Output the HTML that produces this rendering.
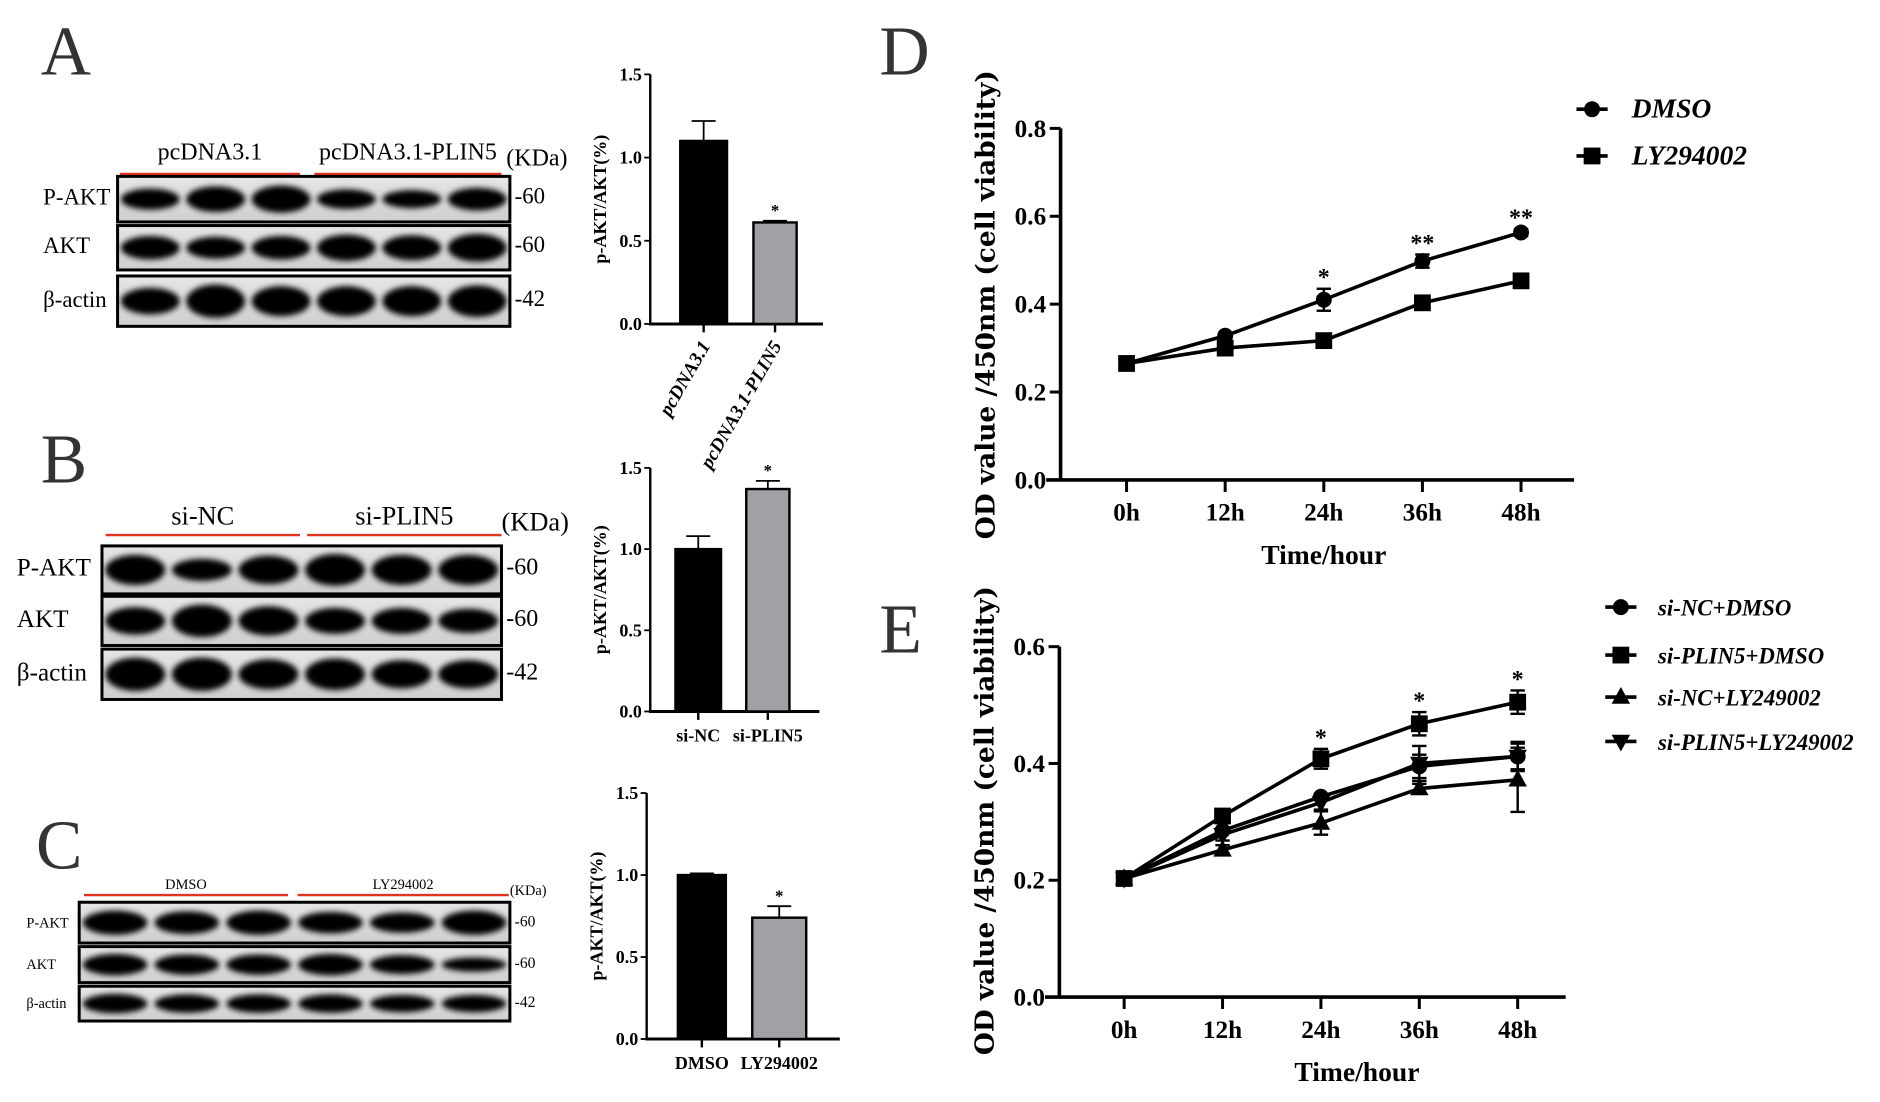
<!DOCTYPE html>
<html><head><meta charset="utf-8"><style>
html,body{margin:0;padding:0;background:#fff;}
svg{display:block;font-family:"Liberation Serif",serif;}
</style></head><body>
<svg id="fig" width="1880" height="1102" viewBox="0 0 1567 918.5" preserveAspectRatio="none" xmlns="http://www.w3.org/2000/svg">
<defs><filter id="blur" x="-20%" y="-50%" width="140%" height="200%"><feGaussianBlur stdDeviation="2.5"/></filter>
<linearGradient id="gel" x1="0" y1="0" x2="0" y2="1"><stop offset="0" stop-color="#e6e6e6"/><stop offset="1" stop-color="#cfcfcf"/></linearGradient></defs>
<g font-size="58" fill="#333">
<text x="34" y="62">A</text>
<text x="34" y="402">B</text>
<text x="30" y="724">C</text>
<text x="733" y="62">D</text>
<text x="733" y="544">E</text>
</g>
<g id="blots"></g>
<g id="bars"></g>
<g id="lines"></g>
</svg>
<script>
const NS="http://www.w3.org/2000/svg";
function mk(parent,tag,attrs,text){const e=document.createElementNS(NS,tag);for(const k in attrs)e.setAttribute(k,attrs[k]);if(text!==undefined)e.textContent=text;parent.appendChild(e);return e;}

// ---------- Western blots ----------
const blotGroups=[["pcDNA3.1","pcDNA3.1-PLIN5"],["si-NC","si-PLIN5"],["DMSO","LY294002"]];
const blotRows=["P-AKT","AKT","β-actin"];
const blotKDa=["60","60","42"];
const bandA=[[0.7,0.85,0.9,0.65,0.6,0.75],[0.8,0.75,0.8,0.9,0.85,0.95],[0.8,1,0.9,0.9,0.9,0.95]];
const bandB=[[0.95,0.7,0.9,1,0.95,0.95],[0.85,1,0.9,0.8,0.8,0.75],[1,1,0.9,0.95,0.85,0.85]];
const bandC=[[0.9,0.85,0.9,0.8,0.75,0.9],[0.9,0.85,0.85,0.9,0.8,0.6],[0.85,0.8,0.8,0.8,0.75,0.75]];
const bandSets=[bandA,bandB,bandC];
const blotLayout=[
 {x:98,w:327,rows:[[147,38],[188,37],[230,42]],red:145,redA:[100,250],redB:[262,418],lab:133,fs:20,rowX:36,rowFs:19,kx:422,kfs:19},
 {x:85,w:333,rows:[[455,40],[497,41],[541,42]],red:446,redA:[88,250],redB:[256,418],lab:437,fs:22,rowX:14,rowFs:21,kx:418,kfs:20},
 {x:66,w:359,rows:[[752,34],[789,30],[822,29]],red:746,redA:[70,240],redB:[248,424],lab:741,fs:12,rowX:22,rowFs:12,kx:425,kfs:13}];
const bg=document.getElementById('blots');
blotLayout.forEach((L,bi)=>{
  const g=mk(bg,'g',{});
  
  
  mk(g,'line',{x1:L.redA[0],x2:L.redA[1],y1:L.red,y2:L.red,stroke:'#e5321e','stroke-width':2});
  mk(g,'line',{x1:L.redB[0],x2:L.redB[1],y1:L.red,y2:L.red,stroke:'#e5321e','stroke-width':2});
  mk(g,'text',{x:(L.redA[0]+L.redA[1])/2,y:L.lab,'text-anchor':'middle','font-size':L.fs},blotGroups[bi][0]);
  mk(g,'text',{x:(L.redB[0]+L.redB[1])/2,y:L.lab,'text-anchor':'middle','font-size':L.fs},blotGroups[bi][1]);
  mk(g,'text',{x:L.kx,y:L.lab+5,'font-size':L.fs},'(KDa)');
  L.rows.forEach((r,ri)=>{
    mk(g,'rect',{x:L.x,y:r[0],width:L.w,height:r[1],fill:'url(#gel)',stroke:'#000','stroke-width':2.5});
    const lw=L.w/6;
    bandSets[bi][ri].forEach((v,li)=>{
      const b=mk(g,'ellipse',{cx:L.x+lw*(li+0.5),cy:r[0]+r[1]*0.5,rx:lw*0.45,ry:r[1]*0.33*v,fill:'#000',filter:'url(#blur)'});
      
      
    });
    mk(g,'text',{x:L.rowX,y:r[0]+r[1]*0.62,'font-size':L.rowFs},blotRows[ri]);
    mk(g,'text',{x:L.x+L.w+4,y:r[0]+r[1]*0.6,'font-size':L.kfs},'-'+blotKDa[ri]);
  });
});

// ---------- Bar charts ----------
const barCats=[["pcDNA3.1","pcDNA3.1-PLIN5"],["si-NC","si-PLIN5"],["DMSO","LY294002"]];
const barVals=[[1.10,0.61],[1.00,1.37],[1.00,0.74]];
const barErrs=[[0.12,0.01],[0.08,0.05],[0.01,0.07]];
const barTicks=["0.0","0.5","1.0","1.5"];
const barLayout=[{ax:542,y0:270,y1:62,xEnd:686,b:[[567,606],[628,664]],rot:true},
 {ax:542,y0:593,y1:390,xEnd:683,b:[[563,601],[622,658]],rot:false},
 {ax:539,y0:866,y1:661,xEnd:700,b:[[565,605],[627,672]],rot:false}];
const bars=document.getElementById('bars');
barLayout.forEach((L,ci)=>{
  const g=mk(bars,'g',{'font-weight':'bold'});
  
  
  const ys=v=>L.y0-(v/1.5)*(L.y0-L.y1);
  mk(g,'line',{x1:L.ax,x2:L.ax,y1:L.y1,y2:L.y0+1,stroke:'#000','stroke-width':2});
  mk(g,'line',{x1:L.ax-1,x2:L.xEnd,y1:L.y0,y2:L.y0,stroke:'#000','stroke-width':2.5});
  barTicks.forEach(t=>{const y=ys(parseFloat(t));
    mk(g,'line',{x1:L.ax-5,x2:L.ax,y1:y,y2:y,stroke:'#000','stroke-width':1.5});
    const tl=mk(g,'text',{x:L.ax-7,y:y+5,'text-anchor':'end','font-size':15},t);
    
    });
  const cy=(L.y0+L.y1)/2;
  const yt=mk(g,'text',{x:0,y:0,transform:`translate(${L.ax-37},${cy}) rotate(-90)`,'text-anchor':'middle','font-size':15},'p-AKT/AKT(%)');
  
  
  barVals[ci].forEach((v,i)=>{
    const [x0,x1]=L.b[i];const cx=(x0+x1)/2;const top=ys(v);const et=ys(v+barErrs[ci][i]);
    mk(g,'line',{x1:cx,x2:cx,y1:et,y2:top,stroke:'#000','stroke-width':1.5});
    mk(g,'line',{x1:cx-10,x2:cx+10,y1:et,y2:et,stroke:'#000','stroke-width':1.5});
    const r=mk(g,'rect',{x:x0,y:top,width:x1-x0,height:L.y0-top,fill:i?'#a0a0a5':'#000',stroke:'#000','stroke-width':2});
    
    
    mk(g,'line',{x1:cx,x2:cx,y1:L.y0,y2:L.y0+7,stroke:'#000','stroke-width':2});
    if(i===1) mk(g,'text',{x:cx,y:et-4,'text-anchor':'middle','font-size':14},'*');
    if(L.rot){mk(g,'text',{x:0,y:0,transform:`translate(${cx+6},${L.y0+18}) rotate(-60)`,'text-anchor':'end','font-size':16,'font-style':'italic'},barCats[ci][i]);}
    else mk(g,'text',{x:cx,y:L.y0+25,'text-anchor':'middle','font-size':15},barCats[ci][i]);
  });
});

// ---------- Line charts ----------
const timeLabels=["0h","12h","24h","36h","48h"];
const dNames=["DMSO","LY294002"];
const dMarkers=["circle","square"];
const dVals=[[0.265,0.328,0.410,0.498,0.563],[0.265,0.300,0.317,0.403,0.453]];
const dErrs=[[0.005,0.006,0.025,0.015,0.008],[0.005,0.005,0.006,0.006,0.008]];
const dStars=["","","*","**","**"];
const dTicks=["0.0","0.2","0.4","0.6","0.8"];
const eNames=["si-NC+DMSO","si-PLIN5+DMSO","si-NC+LY249002","si-PLIN5+LY249002"];
const eMarkers=["circle","square","tri-up","tri-down"];
const eVals=[[0.203,0.285,0.343,0.395,0.412],[0.203,0.310,0.408,0.468,0.505],[0.203,0.252,0.298,0.357,0.372],[0.203,0.278,0.333,0.400,0.412]];
const eErrs=[[0.004,0.006,0.006,0.02,0.025],[0.004,0.006,0.017,0.02,0.02],[0.004,0.008,0.02,0.008,0.055],[0.004,0.01,0.012,0.03,0.022]];
const eStars=["","","*","*","*"];
const eTicks=["0.0","0.2","0.4","0.6"];
const lineLayout=[
 {names:dNames,mk:dMarkers,vals:dVals,errs:dErrs,stars:dStars,ticks:dTicks,max:0.8,ax:884,y0:400,y1:107,xEnd:1312,x0:939,dx:82.2,legX:1327,legY:[91,130],legFs:23,starsOn:0},
 {names:eNames,mk:eMarkers,vals:eVals,errs:eErrs,stars:eStars,ticks:eTicks,max:0.6,ax:883,y0:831,y1:539,xEnd:1305,x0:937,dx:82,legX:1351,legY:[506,546,581,618],legFs:19,starsOn:1}];
const lines=document.getElementById('lines');
function marker(g,type,x,y,s){
  if(type==='circle')return mk(g,'circle',{cx:x,cy:y,r:s*0.95,fill:'#000'});
  if(type==='square')return mk(g,'rect',{x:x-s,y:y-s,width:2*s,height:2*s,fill:'#000'});
  if(type==='tri-up')return mk(g,'polygon',{points:`${x},${y-s*1.2} ${x-s*1.1},${y+s*0.8} ${x+s*1.1},${y+s*0.8}`,fill:'#000'});
  return mk(g,'polygon',{points:`${x},${y+s*1.2} ${x-s*1.1},${y-s*0.8} ${x+s*1.1},${y-s*0.8}`,fill:'#000'});
}
lineLayout.forEach((L,ci)=>{
  const g=mk(lines,'g',{'font-weight':'bold'});
  
  
  const ys=v=>L.y0-(v/L.max)*(L.y0-L.y1);
  const xs=i=>L.x0+i*L.dx;
  mk(g,'line',{x1:L.ax,x2:L.ax,y1:L.y1,y2:L.y0+1,stroke:'#000','stroke-width':3});
  mk(g,'line',{x1:L.ax-12,x2:L.xEnd,y1:L.y0,y2:L.y0,stroke:'#000','stroke-width':3});
  L.ticks.forEach(t=>{const y=ys(parseFloat(t));
    mk(g,'line',{x1:L.ax-9,x2:L.ax,y1:y,y2:y,stroke:'#000','stroke-width':2.5});
    const tl=mk(g,'text',{x:L.ax-12,y:y+7,'text-anchor':'end','font-size':21},t);
    
    });
  timeLabels.forEach((t,i)=>{
    mk(g,'line',{x1:xs(i),x2:xs(i),y1:L.y0,y2:L.y0+10,stroke:'#000','stroke-width':2.5});
    const tl=mk(g,'text',{x:xs(i),y:L.y0+34,'text-anchor':'middle','font-size':21},t);
    
    });
  const xt=mk(g,'text',{x:(L.x0+xs(4))/2+(ci?30:0),y:L.y0+70,'text-anchor':'middle','font-size':23},'Time/hour');
  
  
  const yt=mk(g,'text',{x:0,y:0,transform:`translate(${L.ax-55},${ci?684:254}) rotate(-90)`,'text-anchor':'middle','font-size':22,'font-family':'"DejaVu Serif","Liberation Serif",serif'},'OD value /450nm (cell viability)');
  
  
  L.vals.forEach((ser,si)=>{
    const sg=mk(g,'g',{});
    
    
    mk(sg,'polyline',{points:ser.map((v,i)=>xs(i)+','+ys(v)).join(' '),fill:'none',stroke:'#000','stroke-width':3});
    ser.forEach((v,i)=>{
      const e=L.errs[si][i];
      if(e>0.006){mk(sg,'line',{x1:xs(i),x2:xs(i),y1:ys(v+e),y2:ys(v-e),stroke:'#000','stroke-width':2});
        mk(sg,'line',{x1:xs(i)-6,x2:xs(i)+6,y1:ys(v+e),y2:ys(v+e),stroke:'#000','stroke-width':2});
        mk(sg,'line',{x1:xs(i)-6,x2:xs(i)+6,y1:ys(v-e),y2:ys(v-e),stroke:'#000','stroke-width':2});}
      const m=marker(sg,L.mk[si],xs(i),ys(v),7);
      
      
    });
  });
  const ref=L.vals[L.starsOn];
  L.stars.forEach((s,i)=>{ if(s){const top=ys(ref[i]+L.errs[L.starsOn][i]);
    mk(g,'text',{x:xs(i),y:top-3,'text-anchor':'middle','font-size':20},s);}});
  L.names.forEach((n,si)=>{
    const lg=mk(g,'g',{});
    
    
    const y=L.legY[si];
    mk(lg,'line',{x1:L.legX-13,x2:L.legX+13,y1:y,y2:y,stroke:'#000','stroke-width':3});
    marker(lg,L.mk[si],L.legX,y,7);
    mk(lg,'text',{x:L.legX+ (ci?31:33),y:y+7,'font-size':L.legFs,'font-style':'italic'},n);
  });
});
</script>
</body></html>
